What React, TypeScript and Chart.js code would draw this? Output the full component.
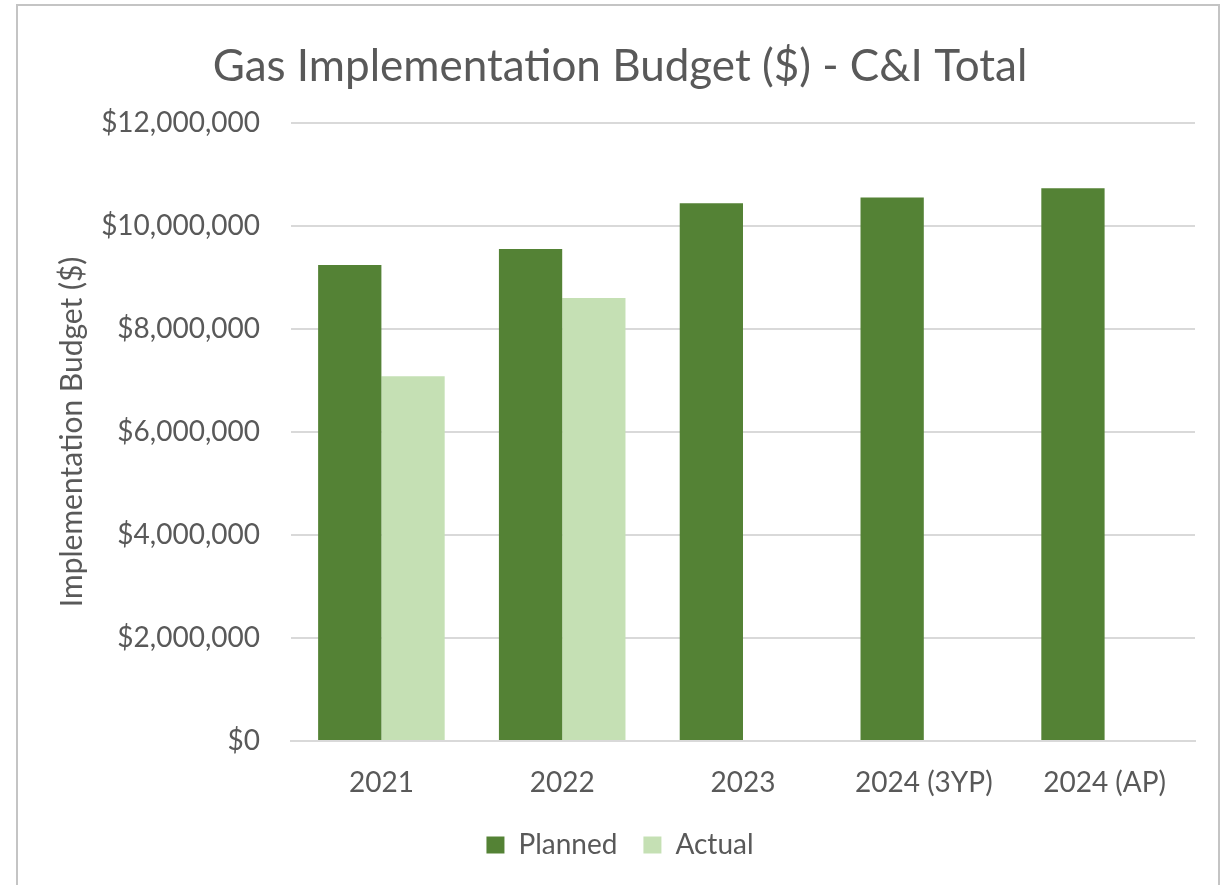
import React, { useEffect, useRef } from "react";
import { Chart, registerables } from "chart.js";

Chart.register(...registerables);

const categories = ["2021", "2022", "2023", "2024 (3YP)", "2024 (AP)"];
const plannedValues = [9240000, 9550000, 10440000, 10550000, 10730000];
const actualValues: (number | null)[] = [7080000, 8600000, null, null, null];
const yTickValues = [0, 2000000, 4000000, 6000000, 8000000, 10000000, 12000000];

const FONT = "Lato";
const TEXT = "#595959";

export default function App() {
  const ref = useRef<HTMLCanvasElement | null>(null);

  useEffect(() => {
    document.body.style.margin = "0";
    const canvas = ref.current;
    if (!canvas) return;
    const chart = new Chart(canvas, {
      type: "bar",
      data: {
        labels: categories,
        datasets: [
          {
            label: "Planned",
            data: plannedValues,
            backgroundColor: "#548235",
            borderWidth: 0,
            categoryPercentage: 0.7,
            barPercentage: 1.0,
          },
          {
            label: "Actual",
            data: actualValues,
            backgroundColor: "#C5E0B4",
            borderWidth: 0,
            categoryPercentage: 0.7,
            barPercentage: 1.0,
          },
        ],
      },
      options: {
        animation: false,
        responsive: false,
        maintainAspectRatio: false,
        layout: { padding: { left: 45, right: 29, top: 0, bottom: 16 } },
        plugins: {
          title: {
            display: true,
            text: "Gas Implementation Budget ($) - C&I Total",
            color: TEXT,
            font: { family: FONT, size: 44, weight: "normal" },
            padding: { top: 40, bottom: 30 },
          },
          legend: {
            display: true,
            position: "bottom",
            labels: {
              color: TEXT,
              font: { family: FONT, size: 28 },
              boxWidth: 18,
              boxHeight: 17,
              padding: 26,
            },
          },
          tooltip: { enabled: false },
        },
        scales: {
          x: {
            grid: { display: false, drawTicks: false },
            border: { display: true, color: "#d9d9d9", width: 2 },
            ticks: {
              color: TEXT,
              font: { family: FONT, size: 28 },
              padding: 25,
              maxRotation: 0,
            },
            afterFit: (s: any) => {
              s.height = 64;
            },
          },
          y: {
            min: 0,
            max: 12000000,
            afterBuildTicks: (s: any) => {
              s.ticks = yTickValues.map((v) => ({ value: v }));
            },
            grid: { color: "#d9d9d9", lineWidth: 2, drawTicks: false },
            border: { display: false },
            ticks: {
              color: TEXT,
              font: { family: FONT, size: 28 },
              padding: 31,
              callback: (v: any) => "$" + Number(v).toLocaleString("en-US"),
            },
            title: {
              display: true,
              text: "Implementation Budget ($)",
              color: TEXT,
              font: { family: FONT, size: 30 },
              padding: { top: 9, bottom: 0 },
            },
            afterFit: (s: any) => {
              s.width = 246;
            },
          },
        },
      },
    });
    return () => chart.destroy();
  }, []);

  return (
    <div style={{ position: "absolute", left: 0, top: 0, width: 1224, height: 885, background: "#fff", overflow: "hidden" }}>
      <div
        style={{
          position: "absolute",
          left: 16,
          top: 4,
          width: 1204,
          height: 900,
          border: "2px solid #c4c4c4",
          boxSizing: "border-box",
        }}
      />
      <canvas ref={ref} width={1224} height={885} style={{ position: "absolute", left: 0, top: 0, display: "block" }} />
    </div>
  );
}
